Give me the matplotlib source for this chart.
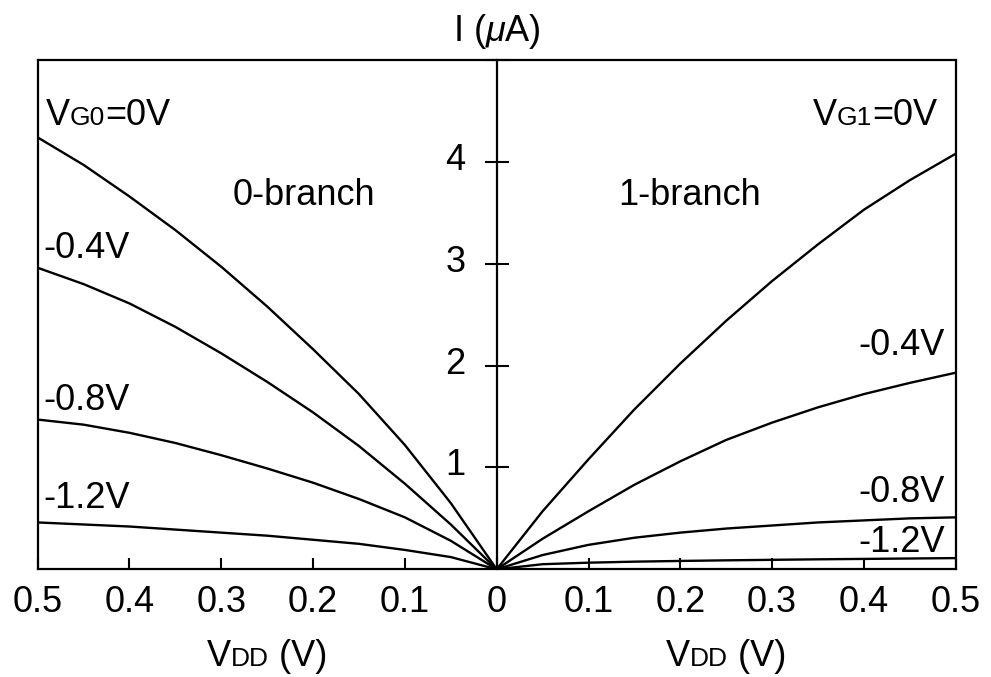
import numpy as np
import matplotlib.pyplot as plt
from matplotlib import transforms
from matplotlib.offsetbox import TextArea, HPacker, AnnotationBbox

plt.rcParams['font.family'] = ['Liberation Sans', 'DejaVu Sans']
plt.rcParams['mathtext.fontset'] = 'custom'
plt.rcParams['mathtext.rm'] = 'Liberation Sans'
plt.rcParams['mathtext.it'] = 'Liberation Sans:italic'

# VDD sweep (V), same for both branches
vdd = [0.0, 0.05, 0.1, 0.15, 0.2, 0.25, 0.3, 0.35, 0.4, 0.45, 0.5]

# 0-branch currents (uA) for VG0 = 0, -0.4, -0.8, -1.2 V
i0_g0 = [0, 0.65, 1.22, 1.72, 2.16, 2.58, 2.97, 3.33, 3.66, 3.97, 4.24]
i0_g04 = [0, 0.44, 0.84, 1.21, 1.54, 1.84, 2.12, 2.38, 2.61, 2.80, 2.96]
i0_g08 = [0, 0.28, 0.51, 0.69, 0.85, 0.99, 1.12, 1.24, 1.34, 1.42, 1.47]
i0_g12 = [0, 0.12, 0.19, 0.25, 0.29, 0.33, 0.36, 0.39, 0.42, 0.44, 0.46]

# 1-branch currents (uA) for VG1 = 0, -0.4, -0.8, -1.2 V
i1_g0 = [0, 0.57, 1.08, 1.57, 2.02, 2.44, 2.83, 3.19, 3.53, 3.82, 4.08]
i1_g04 = [0, 0.30, 0.57, 0.83, 1.06, 1.27, 1.44, 1.59, 1.72, 1.83, 1.93]
i1_g08 = [0, 0.14, 0.24, 0.31, 0.36, 0.40, 0.43, 0.46, 0.48, 0.50, 0.51]
i1_g12 = [0, 0.05, 0.065, 0.075, 0.082, 0.088, 0.093, 0.098, 0.102, 0.106, 0.11]

xticks = [-0.5, -0.4, -0.3, -0.2, -0.1, 0.0, 0.1, 0.2, 0.3, 0.4, 0.5]
yticks = [1, 2, 3, 4, 5]
ytick_labels = ['1', '2', '3', '4', '']

FS = 26
FS_SMALL = 19

fig = plt.figure(figsize=(9.91, 6.77), dpi=100)
ax = fig.add_axes([37.7 / 991, 1 - 569.3 / 677, 918 / 991, 509.3 / 677])

x = np.array(vdd)
for cur in [i0_g0, i0_g04, i0_g08, i0_g12]:
    ax.plot(-x, cur, color='black', lw=1.7)
for cur in [i1_g0, i1_g04, i1_g08, i1_g12]:
    ax.plot(x, cur, color='black', lw=1.7)

ax.set_xlim(-0.5, 0.5)
ax.set_ylim(0, 5)
ax.set_xticks(xticks)
ax.set_xticklabels([f'{abs(v):g}' for v in xticks])
ax.tick_params(axis='x', direction='in', length=8, width=1.5, labelsize=FS, pad=11)
ax.set_yticks([])
for sp in ax.spines.values():
    sp.set_linewidth(1.6)

# current axis in the middle
sec = ax.secondary_yaxis(0.5)
sec.set_alignment('left')
sec.set_yticks(yticks, ytick_labels)
sec.tick_params(direction='inout', length=17, width=1.5, labelsize=FS, pad=14)
for sp in sec.spines.values():
    sp.set_linewidth(1.6)
shift = transforms.ScaledTranslation(0, 4 / 72, fig.dpi_scale_trans)
for lab in sec.get_yticklabels():
    lab.set_transform(lab.get_transform() + shift)

ax.text(0.5, 1.038, r'I ($\mu$A)', transform=ax.transAxes, ha='center',
        va='baseline', fontsize=FS)


def label_left(x0, y0, parts):
    prev = ax.text(x0, y0, parts[0][0], fontsize=parts[0][1], va='baseline', ha='left')
    for txt, size in parts[1:]:
        prev = ax.annotate(txt, xy=(1, y0), xycoords=(prev, 'data'), fontsize=size,
                           va='baseline', ha='left')


def label_right(x0, y0, parts):
    prev = ax.text(x0, y0, parts[-1][0], fontsize=parts[-1][1], va='baseline', ha='right')
    for txt, size in reversed(parts[:-1]):
        prev = ax.annotate(txt, xy=(0, y0), xycoords=(prev, 'data'), fontsize=size,
                           va='baseline', ha='right')


label_left(-0.491, 4.36, [('V', FS), ('G0', FS_SMALL), ('=0V', FS)])
label_left(-0.494, 3.06, [('-0.4V', FS)])
label_left(-0.494, 1.56, [('-0.8V', FS)])
label_left(-0.494, 0.60, [('-1.2V', FS)])
label_right(0.4795, 4.36, [('V', FS), ('G1', FS_SMALL), ('=0V', FS)])
label_right(0.488, 2.10, [('-0.4V', FS)])
label_right(0.488, 0.66, [('-0.8V', FS)])
label_right(0.488, 0.17, [('-1.2V', FS)])

ax.text(-0.288, 3.58, '0-branch', fontsize=FS, va='baseline', ha='left')
ax.text(0.132, 3.58, '1-branch', fontsize=FS, va='baseline', ha='left')

for xf in [0.25, 0.75]:
    pack = HPacker(children=[TextArea('V', textprops=dict(fontsize=FS)),
                             TextArea('DD', textprops=dict(fontsize=FS_SMALL)),
                             TextArea(' (V)', textprops=dict(fontsize=FS))],
                   align='baseline', pad=0, sep=0)
    ab = AnnotationBbox(pack, (xf, -0.205), xycoords='axes fraction',
                        box_alignment=(0.5, 0), frameon=False, pad=0,
                        annotation_clip=False)
    ax.add_artist(ab)

fig.savefig('out.png', dpi=100)
